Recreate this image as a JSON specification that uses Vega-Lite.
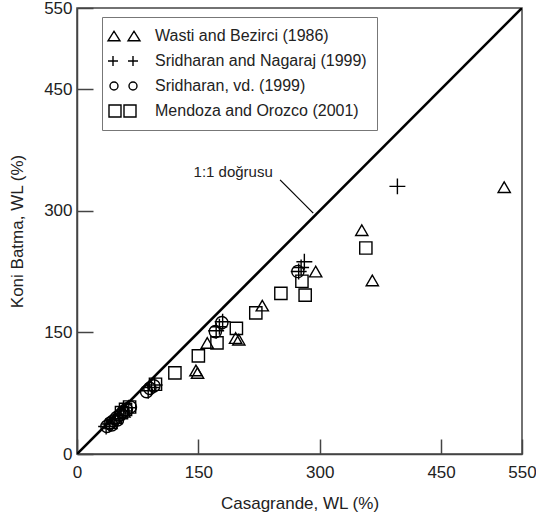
{
  "$schema": "https://vega.github.io/schema/vega-lite/v6.json",
  "width": 445,
  "height": 446,
  "autosize": {"type": "none"},
  "padding": {"left": 77, "top": 8, "right": 14, "bottom": 67},
  "background": "white",
  "config": {
    "view": {"stroke": "#444", "strokeWidth": 1.5},
    "font": "Liberation Sans"
  },
  "datasets": {
    "pts": [
      {"series": "Wasti and Bezirci (1986)", "x": 528, "y": 329},
      {"series": "Wasti and Bezirci (1986)", "x": 352, "y": 276},
      {"series": "Wasti and Bezirci (1986)", "x": 365, "y": 214},
      {"series": "Wasti and Bezirci (1986)", "x": 295, "y": 225},
      {"series": "Wasti and Bezirci (1986)", "x": 229, "y": 183},
      {"series": "Wasti and Bezirci (1986)", "x": 196, "y": 143},
      {"series": "Wasti and Bezirci (1986)", "x": 200, "y": 141},
      {"series": "Wasti and Bezirci (1986)", "x": 161, "y": 137},
      {"series": "Wasti and Bezirci (1986)", "x": 147, "y": 103},
      {"series": "Wasti and Bezirci (1986)", "x": 149, "y": 100},
      {"series": "Wasti and Bezirci (1986)", "x": 58, "y": 52},
      {"series": "Wasti and Bezirci (1986)", "x": 48, "y": 44},
      {"series": "Wasti and Bezirci (1986)", "x": 42, "y": 38},
      {"series": "Sridharan and Nagaraj (1999)", "x": 396, "y": 330},
      {"series": "Sridharan and Nagaraj (1999)", "x": 281, "y": 237},
      {"series": "Sridharan and Nagaraj (1999)", "x": 277, "y": 230},
      {"series": "Sridharan and Nagaraj (1999)", "x": 274, "y": 225},
      {"series": "Sridharan and Nagaraj (1999)", "x": 180, "y": 163},
      {"series": "Sridharan and Nagaraj (1999)", "x": 172, "y": 152},
      {"series": "Sridharan and Nagaraj (1999)", "x": 176, "y": 157},
      {"series": "Sridharan and Nagaraj (1999)", "x": 92, "y": 82},
      {"series": "Sridharan and Nagaraj (1999)", "x": 88, "y": 78},
      {"series": "Sridharan and Nagaraj (1999)", "x": 96, "y": 85},
      {"series": "Sridharan and Nagaraj (1999)", "x": 40, "y": 37},
      {"series": "Sridharan and Nagaraj (1999)", "x": 46, "y": 42},
      {"series": "Sridharan and Nagaraj (1999)", "x": 52, "y": 47},
      {"series": "Sridharan and Nagaraj (1999)", "x": 58, "y": 53},
      {"series": "Sridharan and Nagaraj (1999)", "x": 64, "y": 57},
      {"series": "Sridharan and Nagaraj (1999)", "x": 36, "y": 34},
      {"series": "Sridharan, vd. (1999)", "x": 273, "y": 225},
      {"series": "Sridharan, vd. (1999)", "x": 179, "y": 162},
      {"series": "Sridharan, vd. (1999)", "x": 171, "y": 151},
      {"series": "Sridharan, vd. (1999)", "x": 90, "y": 81},
      {"series": "Sridharan, vd. (1999)", "x": 86, "y": 77},
      {"series": "Sridharan, vd. (1999)", "x": 95, "y": 84},
      {"series": "Sridharan, vd. (1999)", "x": 37, "y": 34},
      {"series": "Sridharan, vd. (1999)", "x": 41, "y": 38},
      {"series": "Sridharan, vd. (1999)", "x": 45, "y": 41},
      {"series": "Sridharan, vd. (1999)", "x": 49, "y": 45},
      {"series": "Sridharan, vd. (1999)", "x": 53, "y": 48},
      {"series": "Sridharan, vd. (1999)", "x": 57, "y": 52},
      {"series": "Sridharan, vd. (1999)", "x": 61, "y": 55},
      {"series": "Sridharan, vd. (1999)", "x": 66, "y": 58},
      {"series": "Sridharan, vd. (1999)", "x": 43, "y": 36},
      {"series": "Sridharan, vd. (1999)", "x": 50, "y": 42},
      {"series": "Mendoza and Orozco (2001)", "x": 357, "y": 254},
      {"series": "Mendoza and Orozco (2001)", "x": 278, "y": 213},
      {"series": "Mendoza and Orozco (2001)", "x": 252, "y": 198},
      {"series": "Mendoza and Orozco (2001)", "x": 282, "y": 196},
      {"series": "Mendoza and Orozco (2001)", "x": 221, "y": 174},
      {"series": "Mendoza and Orozco (2001)", "x": 197, "y": 155},
      {"series": "Mendoza and Orozco (2001)", "x": 173, "y": 137},
      {"series": "Mendoza and Orozco (2001)", "x": 150, "y": 121},
      {"series": "Mendoza and Orozco (2001)", "x": 121, "y": 100},
      {"series": "Mendoza and Orozco (2001)", "x": 97, "y": 86},
      {"series": "Mendoza and Orozco (2001)", "x": 65, "y": 58},
      {"series": "Mendoza and Orozco (2001)", "x": 60, "y": 55},
      {"series": "Mendoza and Orozco (2001)", "x": 55, "y": 51}
    ]
  },
  "encoding": {
    "x": {
      "field": "x", "type": "quantitative",
      "scale": {"domain": [0, 550], "nice": false, "zero": false},
      "axis": {
        "title": "Casagrande, WL (%)", "values": [0, 150, 300, 450, 550],
        "grid": false, "tickSize": -15, "tickWidth": 1.5, "tickColor": "#444",
        "domainColor": "#444", "domainWidth": 1.5,
        "labelFont": "Liberation Sans", "labelFontSize": 17, "labelColor": "#222",
        "labelPadding": 25, "labelFlush": false,
        "titleFont": "Liberation Sans", "titleFontSize": 17, "titleFontWeight": "normal",
        "titleColor": "#222", "titlePadding": 15
      }
    },
    "y": {
      "field": "y", "type": "quantitative",
      "scale": {"domain": [0, 550], "nice": false, "zero": false},
      "axis": {
        "title": "Koni Batma, WL (%)", "values": [0, 150, 300, 450, 550],
        "grid": false, "tickSize": -16, "tickWidth": 1.5, "tickColor": "#444",
        "domainColor": "#444", "domainWidth": 1.5,
        "labelFont": "Liberation Sans", "labelFontSize": 17, "labelColor": "#222",
        "labelPadding": 21, "labelFlush": false,
        "titleFont": "Liberation Sans", "titleFontSize": 17, "titleFontWeight": "normal",
        "titleColor": "#222", "titlePadding": 17
      }
    }
  },
  "resolve": {"scale": {"shape": "independent"}, "legend": {"shape": "independent"}},
  "layer": [
    {
      "data": {"values": [{"x": 0, "y": 0}, {"x": 550, "y": 550}]},
      "mark": {"type": "line", "color": "black", "strokeWidth": 2.6, "clip": true}
    },
    {
      "data": {"values": [{"x": 251, "y": 338}, {"x": 292, "y": 297}]},
      "mark": {"type": "line", "color": "black", "strokeWidth": 1.2}
    },
    {
      "data": {"values": [{"x": 193, "y": 348, "label": "1:1 doğrusu"}]},
      "mark": {"type": "text", "fontSize": 15, "font": "Liberation Sans", "color": "#222", "align": "center", "baseline": "middle"},
      "encoding": {"text": {"field": "label"}}
    },
    {
      "data": {"name": "pts"},
      "mark": {"type": "point", "filled": false, "color": "black", "strokeWidth": 1.4, "opacity": 1, "size": 150},
      "encoding": {
        "shape": {
          "field": "series", "type": "nominal",
          "scale": {
            "domain": ["Wasti and Bezirci (1986)", "Sridharan and Nagaraj (1999)", "Sridharan, vd. (1999)", "Mendoza and Orozco (2001)"],
            "range": ["triangle-up", "M-1.3,0H1.3M0,-1.3V1.3", "circle", "square"]
          },
          "legend": null
        }
      }
    },
    {
      "data": {"name": "pts"},
      "mark": {"type": "point", "filled": false, "color": "black", "strokeWidth": 1.4, "opacity": 0, "size": 256},
      "encoding": {
        "shape": {
          "field": "series", "type": "nominal",
          "scale": {
            "domain": ["Wasti and Bezirci (1986)", "Sridharan and Nagaraj (1999)", "Sridharan, vd. (1999)", "Mendoza and Orozco (2001)"],
            "range": [
              "M-1.625,0.6L-0.875,-0.6L-0.125,0.6Z M0.875,0.6L1.625,-0.6L2.375,0.6Z",
              "M-1.625,0H-0.375M-1,-0.625V0.625M0.875,0H2.125M1.5,-0.625V0.625",
              "M-1.375,0A0.5,0.5 0 1,0 -0.375,0A0.5,0.5 0 1,0 -1.375,0Z M1,0A0.5,0.5 0 1,0 2,0A0.5,0.5 0 1,0 1,0Z",
              "M-1.5,-0.75H0V0.75H-1.5Z M0.375,-0.75H1.875V0.75H0.375Z"
            ]
          },
          "legend": {
            "title": null, "orient": "none", "legendX": 25, "legendY": 9,
            "padding": 10, "strokeColor": "#777", "fillColor": "white",
            "labelFont": "Liberation Sans", "labelFontSize": 16, "labelColor": "#222",
            "labelOffset": 25, "rowPadding": 8, "symbolSize": 256, "symbolOpacity": 1,
            "symbolStrokeWidth": 1.4, "symbolStrokeColor": "black", "symbolFillColor": "transparent",
            "labelLimit": 400
          }
        }
      }
    }
  ]
}
